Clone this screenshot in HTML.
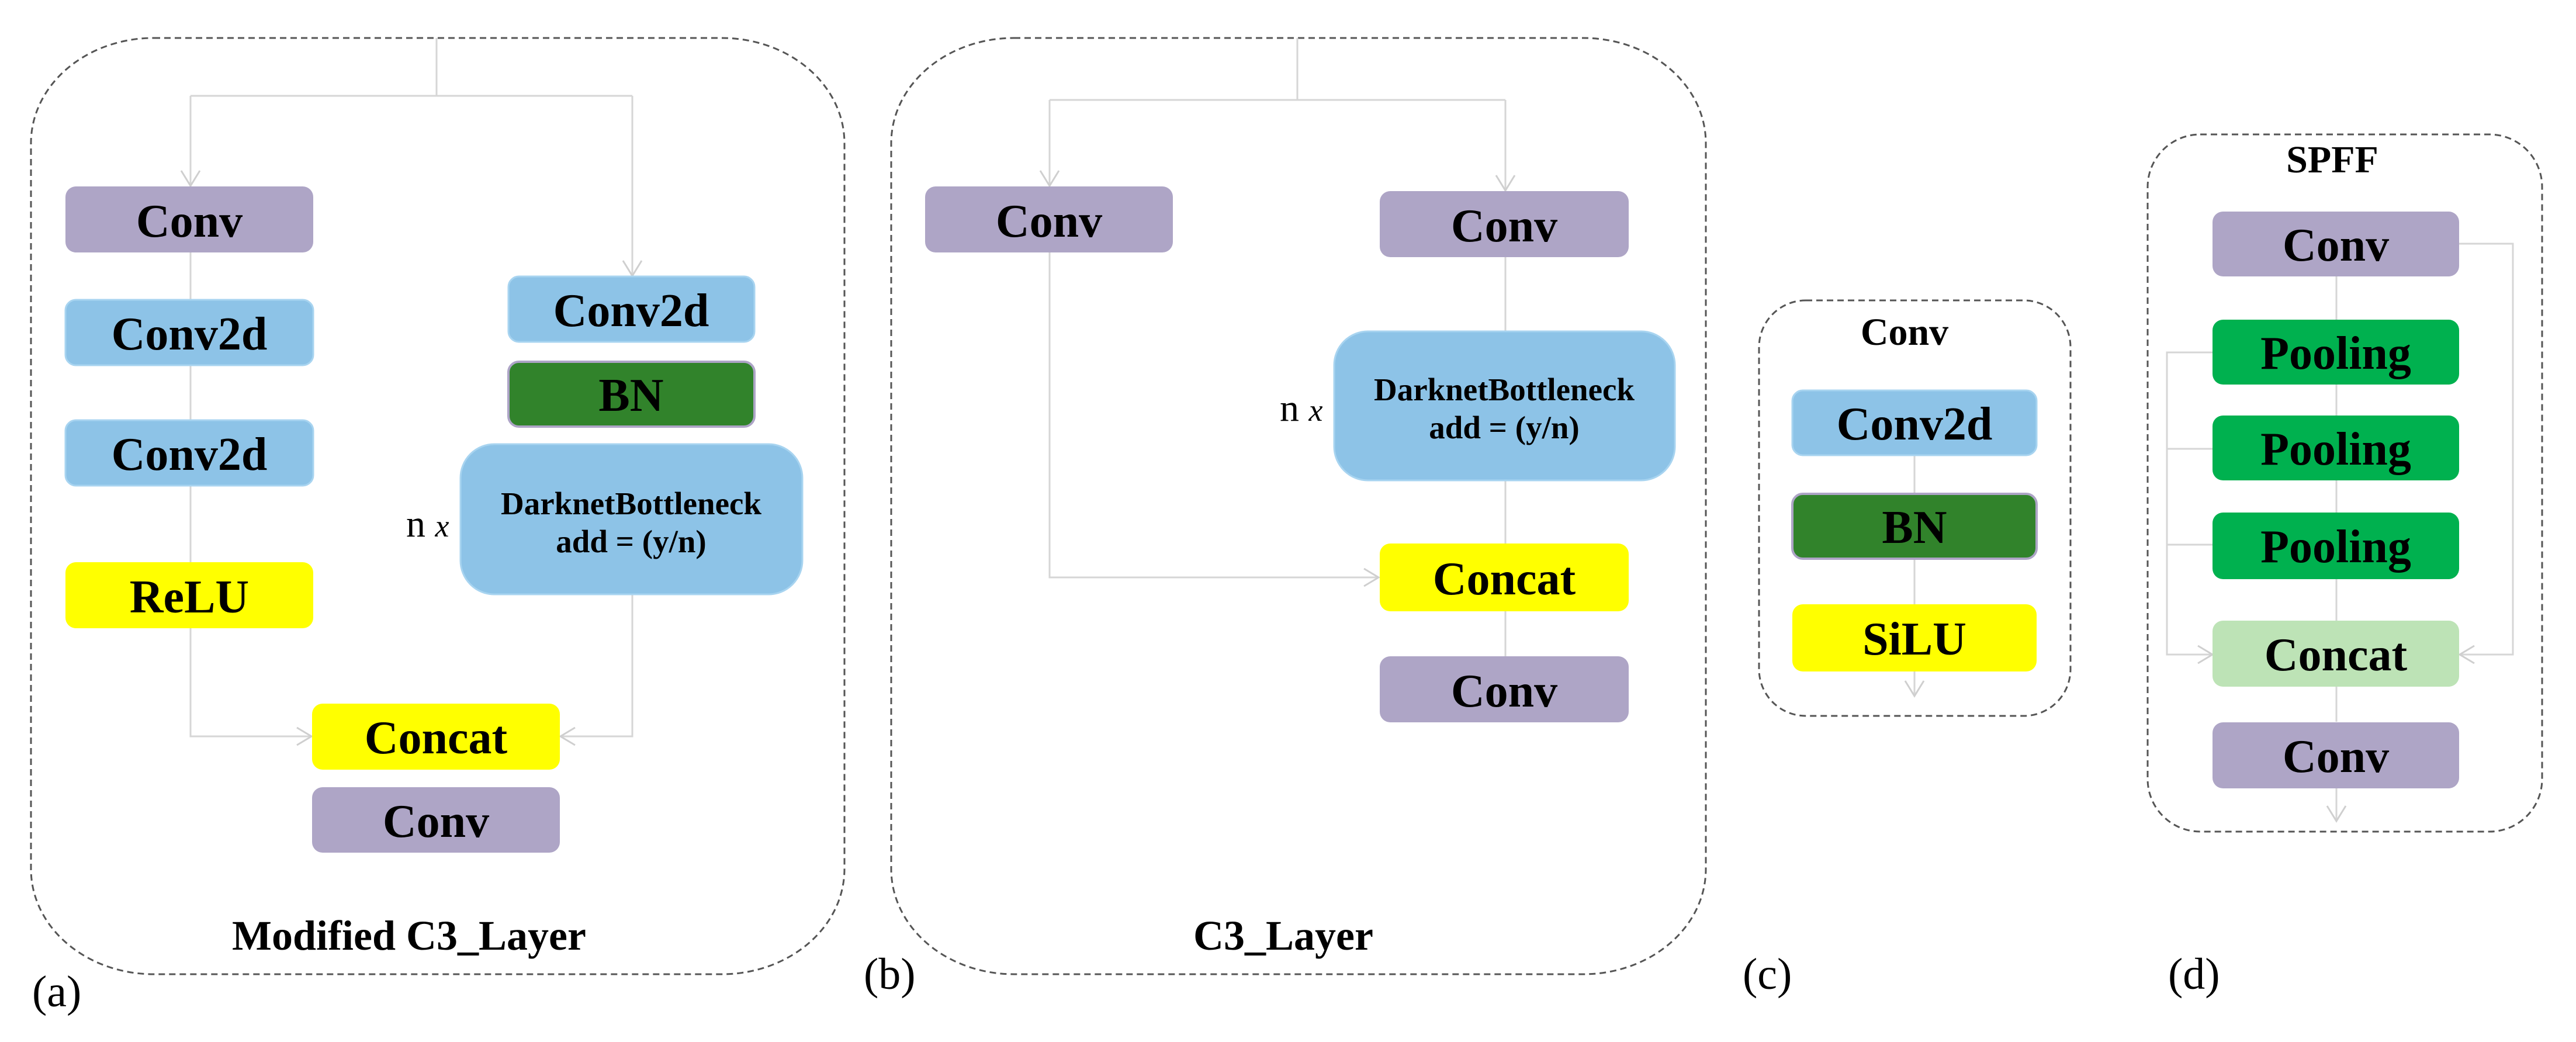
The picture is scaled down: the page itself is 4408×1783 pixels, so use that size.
<!DOCTYPE html>
<html><head><meta charset="utf-8"><style>
html,body{margin:0;padding:0;background:#fff}
svg{display:block;font-family:"Liberation Serif","Times New Roman","DejaVu Serif",serif}
svg text{font-family:"Liberation Serif","Times New Roman","DejaVu Serif",serif}
.b{font-weight:bold;text-anchor:middle}
.bx{font-size:80px}
.ln{stroke:#d6d6d6;stroke-width:3;fill:none}
.ar{stroke:#cfcfcf;stroke-width:3;fill:none}
.dash{fill:none;stroke:#555;stroke-width:3;stroke-dasharray:11 7}
.pu{fill:#aea5c6}
.bl{fill:#8dc3e7;stroke:#a8d4f0;stroke-width:3}
.bn{fill:#31832b;stroke:#ada4c6;stroke-width:4}
.ye{fill:#ffff00}
.gr{fill:#00b14f}
.lg{fill:#bde3b6}
</style></head><body>
<svg width="4408" height="1783" viewBox="0 0 4408 1783" xmlns="http://www.w3.org/2000/svg" font-family="Liberation Serif, Times New Roman, DejaVu Serif, serif">
<rect x="0" y="0" width="4408" height="1783" fill="#fff"/>

<!-- Panel a -->
<rect class="dash" x="53" y="65" width="1392" height="1602" rx="210" ry="180"/>
<path class="ln" d="M747 65 V164 M326 164 H1082 M326 164 V319 M1082 164 V473"/>
<path class="ln" d="M326 432 V1260 H532 M1082 1017 V1260 H960"/>
<path class="ar" d="M310 292 L326 318 L342 292 M1066 446 L1082 472 L1098 446 M508 1245 L533 1260 L508 1275 M984 1245 L959 1260 L984 1275"/>
<rect class="pu" x="112" y="319" width="424" height="113" rx="18"/>
<text class="b bx" x="324" y="405">Conv</text>
<rect class="bl" x="112" y="513" width="424" height="112" rx="18"/>
<text class="b bx" x="324" y="598">Conv2d</text>
<rect class="bl" x="112" y="719" width="424" height="112" rx="18"/>
<text class="b bx" x="324" y="804">Conv2d</text>
<rect class="ye" x="112" y="962" width="424" height="113" rx="18"/>
<text class="b bx" x="324" y="1048">ReLU</text>
<rect class="bl" x="870" y="473" width="421" height="112" rx="18"/>
<text class="b bx" x="1080" y="558">Conv2d</text>
<rect class="bn" x="870" y="619" width="421" height="111" rx="18"/>
<text class="b bx" x="1080" y="703">BN</text>
<rect class="bl" x="788" y="760" width="585" height="257" rx="58"/>
<text class="b" x="1080" y="880" font-size="55">DarknetBottleneck</text>
<text class="b" x="1080" y="945" font-size="55">add = (y/n)</text>
<text x="695" y="918" font-size="66">n <tspan font-style="italic" font-size="54">x</tspan></text>
<rect class="ye" x="534" y="1204" width="424" height="113" rx="18"/>
<text class="b bx" x="746" y="1289">Concat</text>
<rect class="pu" x="534" y="1347" width="424" height="112" rx="18"/>
<text class="b bx" x="746" y="1432">Conv</text>
<text class="b" x="700" y="1625" font-size="72">Modified C3_Layer</text>
<text x="55" y="1722" font-size="76">(a)</text>

<!-- Panel b -->
<rect class="dash" x="1525" y="65" width="1394" height="1602" rx="210" ry="180"/>
<path class="ln" d="M2220 65 V171 M1796 171 H2576 M1796 171 V319 M2576 171 V327"/>
<path class="ln" d="M1796 432 V988 H2359 M2576 440 V1123"/>
<path class="ar" d="M1780 292 L1796 318 L1812 292 M2560 300 L2576 326 L2592 300 M2334 973 L2359 988 L2334 1003"/>
<rect class="pu" x="1583" y="319" width="424" height="113" rx="18"/>
<text class="b bx" x="1795" y="405">Conv</text>
<rect class="pu" x="2361" y="327" width="426" height="113" rx="18"/>
<text class="b bx" x="2574" y="413">Conv</text>
<rect class="bl" x="2283" y="567" width="583" height="255" rx="58"/>
<text class="b" x="2574" y="685" font-size="55">DarknetBottleneck</text>
<text class="b" x="2574" y="750" font-size="55">add = (y/n)</text>
<text x="2190" y="720" font-size="66">n <tspan font-style="italic" font-size="54">x</tspan></text>
<rect class="ye" x="2361" y="930" width="426" height="116" rx="18"/>
<text class="b bx" x="2574" y="1017">Concat</text>
<rect class="pu" x="2361" y="1123" width="426" height="113" rx="18"/>
<text class="b bx" x="2574" y="1209">Conv</text>
<text class="b" x="2196" y="1625" font-size="72">C3_Layer</text>
<text x="1478" y="1692" font-size="76">(b)</text>

<!-- Panel c -->
<rect class="dash" x="3010" y="514" width="533" height="711" rx="80" ry="80"/>
<path class="ln" d="M3276 779 V1190"/>
<path class="ar" d="M3260 1165 L3276 1191 L3292 1165"/>
<text class="b" x="3259" y="590" font-size="66">Conv</text>
<rect class="bl" x="3067" y="668" width="418" height="111" rx="18"/>
<text class="b bx" x="3276" y="752">Conv2d</text>
<rect class="bn" x="3067" y="845" width="418" height="111" rx="18"/>
<text class="b bx" x="3276" y="929">BN</text>
<rect class="ye" x="3067" y="1034" width="418" height="115" rx="18"/>
<text class="b bx" x="3276" y="1120">SiLU</text>
<text x="2982" y="1692" font-size="76">(c)</text>

<!-- Panel d -->
<rect class="dash" x="3675" y="230" width="675" height="1193" rx="90" ry="90"/>
<path class="ln" d="M3998 473 V1235 M3998 1349 V1405"/>
<path class="ln" d="M4208 417 H4300 V1120 H4210 M3786 603 H3708 V1120 H3784 M3708 768 H3786 M3708 932 H3786"/>
<path class="ar" d="M3982 1379 L3998 1405 L4014 1379 M3761 1105 L3786 1120 L3761 1135 M4234 1105 L4209 1120 L4234 1135"/>
<text class="b" x="3991" y="295" font-size="66">SPFF</text>
<rect class="pu" x="3786" y="362" width="422" height="111" rx="18"/>
<text class="b bx" x="3997" y="446">Conv</text>
<rect class="gr" x="3786" y="547" width="422" height="111" rx="18"/>
<text class="b bx" x="3997" y="631">Pooling</text>
<rect class="gr" x="3786" y="711" width="422" height="111" rx="18"/>
<text class="b bx" x="3997" y="795">Pooling</text>
<rect class="gr" x="3786" y="877" width="422" height="114" rx="18"/>
<text class="b bx" x="3997" y="962">Pooling</text>
<rect class="lg" x="3786" y="1062" width="422" height="113" rx="18"/>
<text class="b bx" x="3997" y="1147">Concat</text>
<rect class="pu" x="3786" y="1236" width="422" height="113" rx="18"/>
<text class="b bx" x="3997" y="1321">Conv</text>
<text x="3710" y="1692" font-size="76">(d)</text>
</svg>
</body></html>
